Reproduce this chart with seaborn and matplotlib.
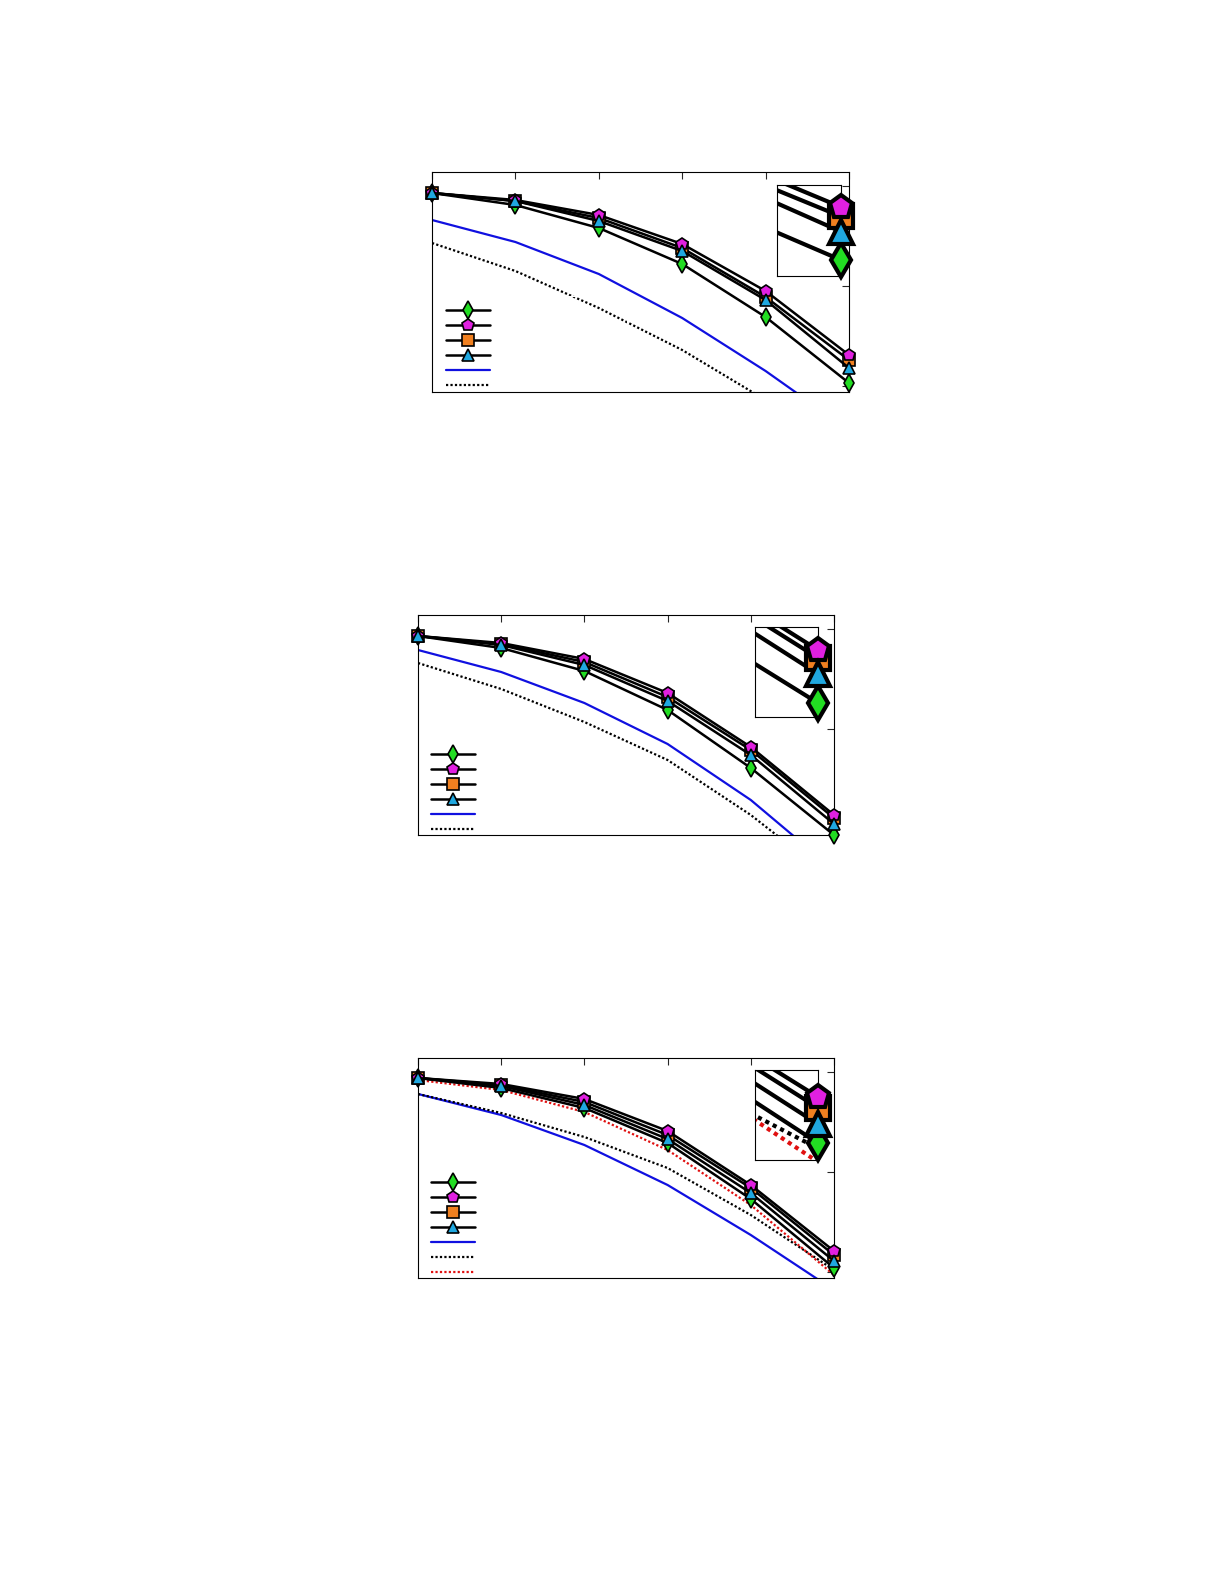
import numpy as np
import matplotlib
matplotlib.use("Agg")
import matplotlib.pyplot as plt
import seaborn as sns
import pandas as pd

sns.set_style("white")
W, H = 1225, 1585
x = [0, 1, 2, 3, 4, 5]

# values (arbitrary units)
p1 = dict(
    diam=[1.93, 1.81, 1.58, 1.22, 0.69, 0.03],
    pent=[1.93, 1.86, 1.71, 1.42, 0.95, 0.31],
    sq=[1.93, 1.85, 1.68, 1.38, 0.89, 0.26],
    tri=[1.93, 1.85, 1.65, 1.35, 0.86, 0.18],
    blue=[1.66, 1.44, 1.12, 0.68, 0.15, -0.44],
    dot=[1.43, 1.15, 0.78, 0.36, -0.14, -0.74],
)
p2 = dict(
    diam=[1.93, 1.81, 1.58, 1.19, 0.61, -0.06],
    pent=[1.93, 1.86, 1.70, 1.36, 0.82, 0.14],
    sq=[1.93, 1.85, 1.67, 1.32, 0.79, 0.11],
    tri=[1.93, 1.84, 1.64, 1.28, 0.74, 0.05],
    blue=[1.79, 1.57, 1.26, 0.85, 0.29, -0.41],
    dot=[1.66, 1.40, 1.07, 0.69, 0.14, -0.51],
)
p3 = dict(
    diam=[1.94, 1.84, 1.64, 1.29, 0.73, 0.04],
    pent=[1.94, 1.88, 1.73, 1.41, 0.87, 0.21],
    sq=[1.94, 1.87, 1.70, 1.37, 0.84, 0.17],
    tri=[1.94, 1.86, 1.67, 1.33, 0.79, 0.11],
    blue=[1.78, 1.57, 1.27, 0.87, 0.37, -0.18],
    dot=[1.78, 1.59, 1.35, 1.04, 0.57, 0.02],
    red=[1.92, 1.82, 1.60, 1.22, 0.67, -0.03],
)

styles = {
    "diam": dict(marker="d", mfc="#22dd22"),
    "pent": dict(marker="p", mfc="#e020e0"),
    "sq": dict(marker="s", mfc="#f08020"),
    "tri": dict(marker="^", mfc="#20a8e0"),
}
draw_order = ["diam", "sq", "pent", "tri"]
legend_order = ["diam", "pent", "sq", "tri"]

fig = plt.figure(figsize=(W/100, H/100), dpi=100)

def rect(x0, y0, x1, y1):
    return [x0/W, 1-y1/H, (x1-x0)/W, (y1-y0)/H]

panels = [
    (p1, (432, 172, 849, 392), 386, (437, 296, 627, 389), (777, 185, 841, 276), (207, 260)),
    (p2, (418, 615, 834, 835), 829, (422, 740, 611, 832), (755, 627, 818, 717), (650, 703)),
    (p3, (418, 1058, 834, 1278), 1272, (422, 1168, 628, 1275), (755, 1070, 818, 1160), (1097, 1143)),
]

def draw(ax, d, ms, lw, lwl, inset):
    handles = {}
    for k in draw_order:
        df = pd.DataFrame({"x": x, "y": d[k]})
        if inset:
            sns.lineplot(data=df, x="x", y="y", ax=ax, color="black", lw=lw, zorder=3)
            ln = ax.lines[-1]
            ax.plot(x[-1:], d[k][-1:], linestyle="none", marker=styles[k]["marker"],
                    mfc=styles[k]["mfc"], mec="black", mew=lw, ms=ms, clip_on=False, zorder=4)
        else:
            sns.lineplot(data=df, x="x", y="y", ax=ax, color="black", lw=lw,
                         marker=styles[k]["marker"], markerfacecolor=styles[k]["mfc"],
                         markeredgecolor="black", markeredgewidth=1.2, markersize=ms,
                         clip_on=False, zorder=3)
            ln = ax.lines[-1]
        handles[k] = ln
    hl = [handles[k] for k in legend_order]
    df = pd.DataFrame({"x": x, "y": d["blue"]})
    sns.lineplot(data=df, x="x", y="y", ax=ax, color="#1010e0", lw=lwl)
    hl.append(ax.lines[-1])
    df = pd.DataFrame({"x": x, "y": d["dot"]})
    sns.lineplot(data=df, x="x", y="y", ax=ax, color="black", lw=lwl, linestyle=(0, (1, 1)))
    hl.append(ax.lines[-1])
    if "red" in d:
        df = pd.DataFrame({"x": x, "y": d["red"]})
        sns.lineplot(data=df, x="x", y="y", ax=ax, color="#e01010", lw=lwl, linestyle=(0, (1, 1)))
        hl.append(ax.lines[-1])
    return hl

for d, r, base, lg, ins, mk in panels:
    ax = fig.add_axes(rect(*r))
    h = draw(ax, d, 9, 1.8, 1.6, False)
    ax.set_xlim(0, 5)
    ax.set_ylim((base - r[3]) / 100, (base - r[1]) / 100)
    ax.set_xticks(x)
    ax.set_yticks([0, 1, 2])
    ax.tick_params(direction="in", top=True, right=True, length=5, labelleft=False, labelbottom=False)
    ax.set_xlabel(""); ax.set_ylabel("")
    for s in ax.spines.values():
        s.set_linewidth(0.8); s.set_color("black")
    # legend
    lax = fig.add_axes(rect(*lg))
    lax.axis("off")
    lax.legend(h, [" "] * len(h), loc="upper left", bbox_to_anchor=(0, 1), frameon=False,
               handlelength=3.5, labelspacing=0.15, fontsize=9, borderaxespad=0.3)
    lax.add_patch(plt.Rectangle((0, 0), 1, 1, transform=lax.transAxes, fill=False, lw=0.8, clip_on=False))
    # inset
    iax = fig.add_axes(rect(*ins))
    draw(iax, d, 17, 3, 3, True)
    iax.set_xlim(4.78, 5.0)
    ph, dh = mk
    vp, vd = d["pent"][5], d["diam"][5]
    scale = (vp - vd) / (dh - ph)
    iax.set_ylim(vd - (ins[3] - dh) * scale, vp + (ph - ins[1]) * scale)
    iax.set_xticks([4.9])
    iax.set_yticks(np.linspace(vd, vp, 4))
    iax.tick_params(direction="in", right=True, length=4, labelleft=False, labelbottom=False)
    iax.set_xlabel(""); iax.set_ylabel("")
    for s in iax.spines.values():
        s.set_linewidth(0.8); s.set_color("black")

fig.savefig("out.png", dpi=100, facecolor="white")
